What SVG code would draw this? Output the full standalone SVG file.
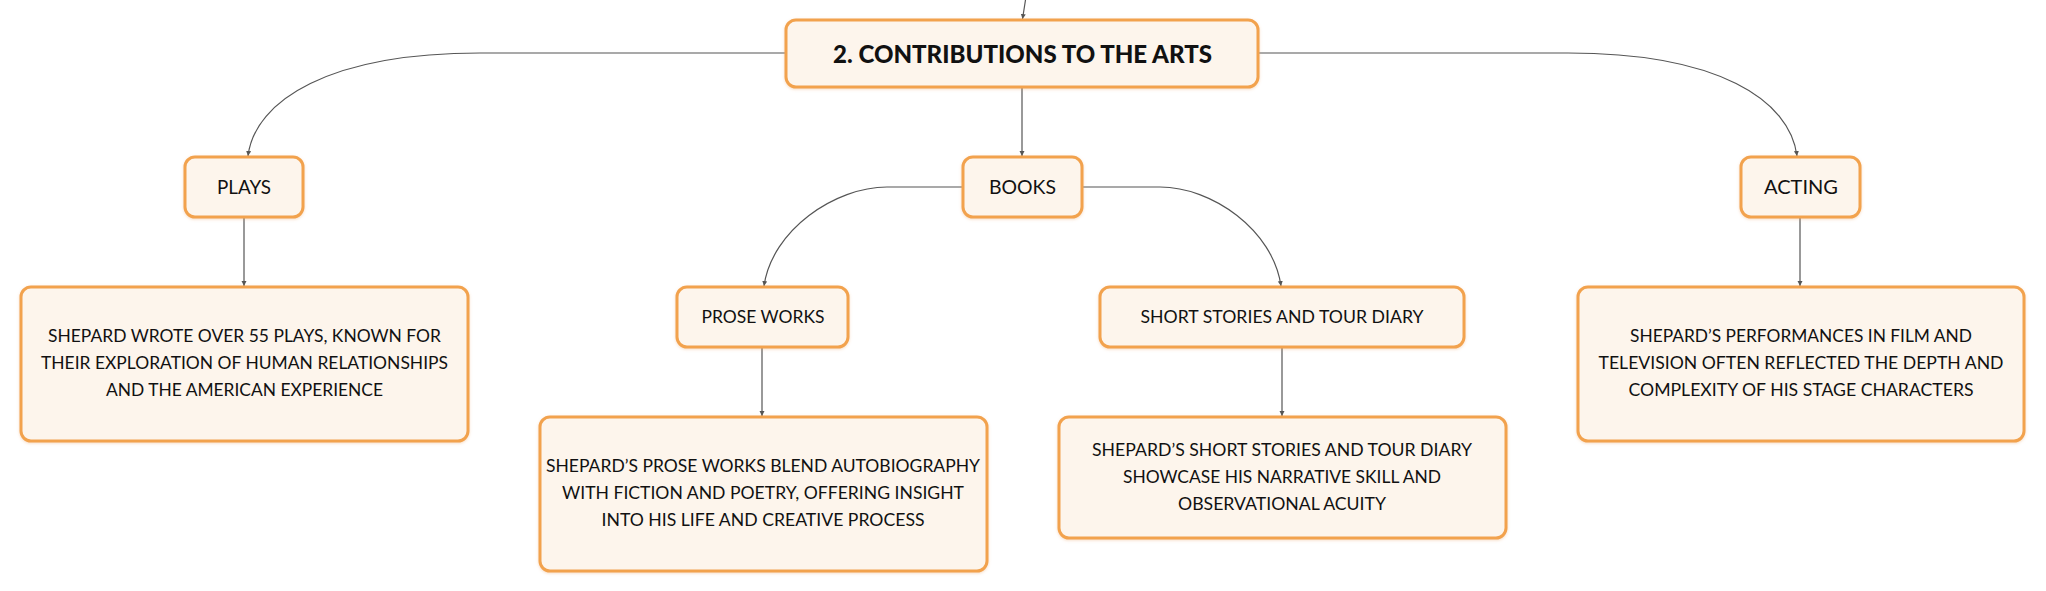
<svg xmlns="http://www.w3.org/2000/svg" width="2046" height="591" viewBox="0 0 2046 591">
<defs>
<style>
.box{fill:#FDF5EC;stroke:#F2A24E;stroke-width:3;filter:url(#sh)}
.t{font-family:Lato,"Noto Sans","DejaVu Sans",sans-serif;fill:#111;text-anchor:middle}
.main{font-size:25px;font-weight:900}
.lbl{font-size:19px}
.d{font-size:18px}
.c{fill:none;stroke:#555;stroke-width:1.2;marker-end:url(#ah)}
</style>
<marker id="ah" markerUnits="userSpaceOnUse" markerWidth="7" markerHeight="6" refX="5" refY="2.5" orient="auto">
<path d="M0,0 L5,2.5 L0,5 Z" fill="#555"/>
</marker>
<filter id="sh" x="-5%" y="-10%" width="110%" height="130%">
<feDropShadow dx="0" dy="1" stdDeviation="1.5" flood-color="#E8A060" flood-opacity="0.35"/>
</filter>
</defs>
<rect width="2046" height="591" fill="#fff"/>
<g id="connectors">
<path class="c" d="M1025.5,0 L1022.5,19"/>
<path class="c" d="M786,53 L480,53 C330,53 255,100 248,156"/>
<path class="c" d="M1022,87 L1022,156"/>
<path class="c" d="M1258,53 L1568,53 C1718,53 1790,100 1797,156"/>
<path class="c" d="M963,187 L887,187 C835,187 772,230 764,286"/>
<path class="c" d="M1082,187 L1160,187 C1212,187 1273,230 1281,286"/>
<path class="c" d="M244,217 L244,286"/>
<path class="c" d="M762,347 L762,416"/>
<path class="c" d="M1282,347 L1282,416"/>
<path class="c" d="M1800,217 L1800,286"/>
</g>
<g id="node-main">
<rect class="box" x="786" y="20" width="472" height="67" rx="10"/>
<text class="t main" x="1022.5" y="63" textLength="379" lengthAdjust="spacingAndGlyphs">2. CONTRIBUTIONS TO THE ARTS</text>
</g>
<g id="node-plays">
<rect class="box" x="185" y="157" width="118" height="60" rx="10"/>
<text class="t lbl" x="244" y="194" textLength="54" lengthAdjust="spacingAndGlyphs">PLAYS</text>
</g>
<g id="node-books">
<rect class="box" x="963" y="157" width="119" height="60" rx="10"/>
<text class="t lbl" x="1022.5" y="194" textLength="67" lengthAdjust="spacingAndGlyphs">BOOKS</text>
</g>
<g id="node-acting">
<rect class="box" x="1741" y="157" width="119" height="60" rx="10"/>
<text class="t lbl" x="1801" y="194" textLength="74" lengthAdjust="spacingAndGlyphs">ACTING</text>
</g>
<g id="node-prose">
<rect class="box" x="677" y="287" width="171" height="60" rx="10"/>
<text class="t d" x="763" y="323" textLength="123" lengthAdjust="spacingAndGlyphs">PROSE WORKS</text>
</g>
<g id="node-short">
<rect class="box" x="1100" y="287" width="364" height="60" rx="10"/>
<text class="t d" x="1282" y="323" textLength="283" lengthAdjust="spacingAndGlyphs">SHORT STORIES AND TOUR DIARY</text>
</g>
<g id="node-plays-desc">
<rect class="box" x="21" y="287" width="447" height="154" rx="10"/>
<text class="t d" x="244.5" y="342" textLength="393" lengthAdjust="spacingAndGlyphs">SHEPARD WROTE OVER 55 PLAYS, KNOWN FOR</text>
<text class="t d" x="244.5" y="369" textLength="407" lengthAdjust="spacingAndGlyphs">THEIR EXPLORATION OF HUMAN RELATIONSHIPS</text>
<text class="t d" x="244.5" y="396" textLength="277" lengthAdjust="spacingAndGlyphs">AND THE AMERICAN EXPERIENCE</text>
</g>
<g id="node-prose-desc">
<rect class="box" x="540" y="417" width="447" height="154" rx="10"/>
<text class="t d" x="763" y="472" textLength="434" lengthAdjust="spacingAndGlyphs">SHEPARD’S PROSE WORKS BLEND AUTOBIOGRAPHY</text>
<text class="t d" x="763" y="499" textLength="402" lengthAdjust="spacingAndGlyphs">WITH FICTION AND POETRY, OFFERING INSIGHT</text>
<text class="t d" x="763" y="526" textLength="323" lengthAdjust="spacingAndGlyphs">INTO HIS LIFE AND CREATIVE PROCESS</text>
</g>
<g id="node-short-desc">
<rect class="box" x="1059" y="417" width="447" height="121" rx="10"/>
<text class="t d" x="1282" y="456" textLength="380" lengthAdjust="spacingAndGlyphs">SHEPARD’S SHORT STORIES AND TOUR DIARY</text>
<text class="t d" x="1282" y="483" textLength="318" lengthAdjust="spacingAndGlyphs">SHOWCASE HIS NARRATIVE SKILL AND</text>
<text class="t d" x="1282" y="510" textLength="208" lengthAdjust="spacingAndGlyphs">OBSERVATIONAL ACUITY</text>
</g>
<g id="node-acting-desc">
<rect class="box" x="1578" y="287" width="446" height="154" rx="10"/>
<text class="t d" x="1801" y="342" textLength="342" lengthAdjust="spacingAndGlyphs">SHEPARD’S PERFORMANCES IN FILM AND</text>
<text class="t d" x="1801" y="369" textLength="405" lengthAdjust="spacingAndGlyphs">TELEVISION OFTEN REFLECTED THE DEPTH AND</text>
<text class="t d" x="1801" y="396" textLength="345" lengthAdjust="spacingAndGlyphs">COMPLEXITY OF HIS STAGE CHARACTERS</text>
</g>
</svg>
